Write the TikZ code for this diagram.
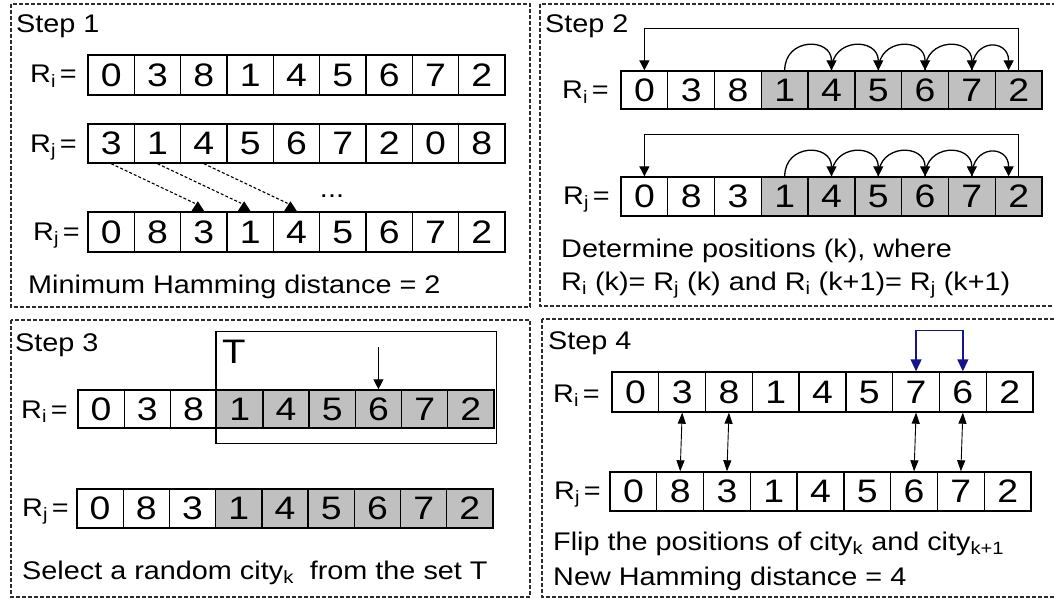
\documentclass[tikz,border=0pt]{standalone}
\usepackage{fontspec}
\setmainfont{Liberation Sans}[FakeStretch=1.13]
\newfontfamily\digitfont{Liberation Sans}[FakeStretch=1.15]
\usetikzlibrary{arrows.meta,calc}
\definecolor{cellgray}{RGB}{192,192,192}
\definecolor{navyline}{RGB}{20,20,140}
\definecolor{panelline}{RGB}{45,45,45}
\tikzset{
  cellbox/.style={draw, line width=1.4pt, inner sep=0pt, font=\digitfont\fontsize{32.5}{34}\selectfont},
  txt/.style={inner sep=0pt, font=\fontsize{25.5}{30}\selectfont},
  panel/.style={draw=panelline, line width=1.1pt, dash pattern=on 4pt off 2pt},
  tri/.style={-{Triangle[width=10pt,length=10pt]}, line width=1.3pt},
  dconn/.style={line width=1.1pt, dash pattern=on 3pt off 2pt},
  dbl/.style={{Triangle[width=8pt,length=11pt]}-{Triangle[width=8pt,length=11pt]}, line width=0.9pt},
  swap/.style={{Triangle[width=11pt,length=12pt]}-{Triangle[width=11pt,length=12pt]}, line width=1.4pt, draw=navyline},
}
\newcommand\cellrow[7]{%
  \foreach \v [count=\i from 0] in {#7}{%
    \ifnum\i<#6\relax\def\mycellfill{white}\else\def\mycellfill{cellgray}\fi
    \node[cellbox, fill=\mycellfill, minimum width=#4pt, minimum height=#5pt] (#1\i) at ({#2+#4*(\i+0.5)},#3) {\v};
  }}
\newcommand\Rlab[1]{R\textsubscript{#1}\hspace{4pt}=}
\begin{document}
\begin{tikzpicture}[x=1pt,y=-1pt]
\useasboundingbox (0,0) rectangle (1054,599);
\clip (0,0) rectangle (1054,599);
% panels
\draw[panel] (11,4) rectangle (530,307);
\draw[panel] (540,4) rectangle (1060,306);
\draw[panel] (11,320) rectangle (530,597);
\draw[panel] (542,319) rectangle (1060,597);

% ---------------- Step 1
\node[txt, anchor=base west] (st1) at (16,33) {Step 1};
\cellrow{s1a}{88}{75}{46.33}{40}{9}{0,3,8,1,4,5,6,7,2}
\cellrow{s1b}{88}{143.5}{46.33}{39}{9}{3,1,4,5,6,7,2,0,8}
\cellrow{s1c}{88}{232}{46.33}{40}{9}{0,8,3,1,4,5,6,7,2}
\node[txt, anchor=base west] (l1a) at (30,83) {\Rlab{i}};
\node[txt, anchor=base west] (l1b) at (30,152) {\Rlab{j}};
\node[txt, anchor=base west] (l1c) at (33,240) {\Rlab{j}};
\foreach \s/\t in {0/2,1/3,2/4}{
  \draw[dconn] (s1b\s.south) -- ($(s1c\t.north)+(-9,-8)$);
  \fill ($(s1c\t.north)+(-12.5,0)$) -- ++(13,0) -- ++(-6.5,-10) -- cycle;
}
\node[txt, anchor=base] (dots) at (332,197) {...};
\node[txt, anchor=base west] (t1) at (28,293) {Minimum Hamming distance = 2};

% ---------------- Step 2
\node[txt, anchor=base west] (st2) at (545,33) {Step 2};
\cellrow{s2a}{621}{90}{46.78}{38}{3}{0,3,8,1,4,5,6,7,2}
\cellrow{s2b}{621}{196.5}{46.78}{39}{3}{0,8,3,1,4,5,6,7,2}
\node[txt, anchor=base west] (l2a) at (562,99) {\Rlab{i}};
\node[txt, anchor=base west] (l2b) at (563,204) {\Rlab{j}};
\foreach \r/\h in {a/42,b/42}{
  \draw[tri] (s2\r8.north) -- ++(0,-\h) -| (s2\r0.north);
  \foreach \k/\kk in {3/4,4/5,5/6,6/7}{
    \draw[tri] (s2\r\k.north) .. controls +(0,-33) and +(0,-33) .. (s2\r\kk.north);
  }
  \draw[tri] (s2\r7.north) .. controls +(0,-32) and +(0,-32) .. ($(s2\r8.north)+(-10,0)$);
}
\node[txt, anchor=base west] (t2a) at (561,257) {Determine positions (k), where};
\node[txt, anchor=base west] (t2b) at (561,290) {R\textsubscript{i} (k)= R\textsubscript{j} (k) and R\textsubscript{i} (k+1)= R\textsubscript{j} (k+1)};

% ---------------- Step 3
\node[txt, anchor=base west] (st3) at (15,351) {Step 3};
\cellrow{s3a}{78}{409}{46.22}{38}{3}{0,3,8,1,4,5,6,7,2}
\cellrow{s3b}{77}{508.5}{46.22}{39}{3}{0,8,3,1,4,5,6,7,2}
\node[txt, anchor=base west] (l3a) at (21,418) {\Rlab{i}};
\node[txt, anchor=base west] (l3b) at (22,516) {\Rlab{j}};
\draw[line width=1.4pt] ($(s3a3.north west)+(0,-58)$) rectangle ($(s3a8.south east)+(2,15)$);
\node[inner sep=0pt, font=\fontsize{34}{36}\selectfont, anchor=base west] (T) at (222,363) {T};
\draw[tri] ($(s3a6.north)+(0,-42)$) -- (s3a6.north);
\node[txt, anchor=base west] (t3) at (22,579) {Select a random city\textsubscript{k}\ \ from the set T};

% ---------------- Step 4
\node[txt, anchor=base west] (st4) at (548,349) {Step 4};
\cellrow{s4a}{612}{392}{46.78}{40}{9}{0,3,8,1,4,5,7,6,2}
\cellrow{s4b}{610}{491.5}{46.78}{39}{9}{0,8,3,1,4,5,6,7,2}
\node[txt, anchor=base west] (l4a) at (553,402) {\Rlab{i}};
\node[txt, anchor=base west] (l4b) at (554,499) {\Rlab{j}};
\draw[swap] (s4a6.north) -- ++(0,-41) -| (s4a7.north);
\foreach \k in {1,2,6,7}{
  \draw[dbl] (s4a\k.south) -- (s4b\k.north);
}
\node[txt, anchor=base west] (t4a) at (553,550) {Flip the positions of city\textsubscript{k} and city\textsubscript{k+1}};
\node[txt, anchor=base west] (t4b) at (553,585) {New Hamming distance = 4};
\end{tikzpicture}
\end{document}
